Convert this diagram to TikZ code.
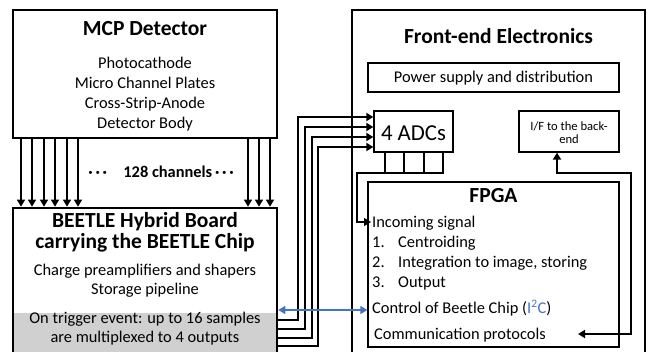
\documentclass[tikz,border=0pt]{standalone}
\usepackage{fontspec}
\setmainfont{Carlito}
\usetikzlibrary{arrows.meta,calc}
\definecolor{graybg}{RGB}{208,208,208}
\definecolor{linkblue}{RGB}{68,114,196}
\tikzset{
  bigbox/.style={draw, line width=2.6pt, inner sep=0pt},
  smallbox/.style={draw, line width=1.3pt, inner sep=0pt},
  conn/.style={line width=1.8pt},
  thin conn/.style={line width=1.3pt},
  tip/.style={-{Triangle[length=7pt,width=8pt]}},
  txt/.style={inner sep=0pt, anchor=base},
  ltxt/.style={inner sep=0pt, anchor=base west},
  ttl/.style={font=\fontsize{21.5}{24}\selectfont\bfseries},
  body/.style={font=\fontsize{16.4}{20}\selectfont},
}
\begin{document}
\begin{tikzpicture}[x=1pt,y=-1pt]
\useasboundingbox (0,0) rectangle (648,352);
\clip (0,0) rectangle (648,352);
% ---------- MCP detector ----------
\node[bigbox, minimum width=264pt, minimum height=128pt] (mcp) at (145,74) {};
\node[txt, ttl] (mcpt) at (145,36) {MCP Detector};
\node[txt, body] (m1) at (145,68.3) {Photocathode};
\node[txt, body] (m2) at (145,88.3) {Micro Channel Plates};
\node[txt, body] (m3) at (145,108.3) {Cross-Strip-Anode};
\node[txt, body] (m4) at (145,128.3) {Detector Body};
% ---------- BEETLE board ----------
\fill[graybg] (13,313) rectangle (277,362);
\node[bigbox, minimum width=264pt, minimum height=154pt] (beetle) at (145,285) {};
\node[txt, ttl] (b1) at (145,227.7) {BEETLE Hybrid Board};
\node[txt, ttl] (b2) at (145,248.5) {carrying the BEETLE Chip};
\node[txt, body] (b3) at (145,276) {Charge preamplifiers and shapers};
\node[txt, body] (b4) at (145,295) {Storage pipeline};
\node[txt, body] (b5) at (145,324) {On trigger event: up to 16 samples};
\node[txt, body] (b6) at (145,343) {are multiplexed to 4 outputs};
% ---------- channels ----------
\foreach \x in {21,32,44,55,67,78,248,259,270}
  \draw[thin conn, tip] (\x,0 |- mcp.south) -- (\x,0 |- beetle.north);
\node[txt, font=\fontsize{16.4}{20}\selectfont\bfseries] (ch) at (161,177.7) {·\,·\,·\quad 128 channels\,·\,·\,·};
% ---------- Front-end electronics ----------
\node[bigbox, minimum width=293pt, minimum height=352pt] (fee) at (498.5,186) {};
\node[txt, ttl] (feet) at (498.5,43.3) {Front-end Electronics};
\node[smallbox, minimum width=251pt, minimum height=29pt] (pwr) at (493.5,77.5) {};
\node[txt, body] (pwrt) at (493.5,82.7) {Power supply and distribution};
\node[smallbox, minimum width=79pt, minimum height=41pt] (adc) at (413.5,131.5) {};
\node[txt, font=\fontsize{22.8}{26}\selectfont] (adct) at (413.5,140.7) {4 ADCs};
\node[smallbox, minimum width=100pt, minimum height=41pt] (if) at (569,131.5) {};
\node[txt, font=\fontsize{12.6}{14}\selectfont] (if1) at (569,130.7) {I/F to the back-};
\node[txt, font=\fontsize{12.6}{14}\selectfont] (if2) at (569,143.3) {end};
% ---------- FPGA ----------
\node[smallbox, minimum width=251pt, minimum height=165pt] (fpga) at (493.5,264.5) {};
\node[txt, ttl] (fpgat) at (493.5,202.7) {FPGA};
\node[ltxt, body] (f0) at (372,227.3) {Incoming signal};
\node[ltxt, body] (f1n) at (372,247.7) {1.};
\node[ltxt, body] (f1) at (398,247.7) {Centroiding};
\node[ltxt, body] (f2n) at (372,267.3) {2.};
\node[ltxt, body] (f2) at (398,267.3) {Integration to image, storing};
\node[ltxt, body] (f3n) at (372,287.3) {3.};
\node[ltxt, body] (f3) at (398,287.3) {Output};
\node[ltxt, body] (f4) at (372,313.3) {Control of Beetle Chip (\textcolor{linkblue}{I\textsuperscript{2}C})};
\node[ltxt, body] (f5) at (374,339.3) {Communication protocols};
% ---------- BEETLE outputs to ADCs ----------
\draw[conn, tip] (beetle.east |- 0,320) -- (298,320) -- (298,117) -- (adc.west |- 0,117);
\draw[conn, tip] (beetle.east |- 0,329) -- (305,329) -- (305,127) -- (adc.west |- 0,127);
\draw[conn, tip] (beetle.east |- 0,338) -- (312,338) -- (312,137) -- (adc.west |- 0,137);
\draw[conn, tip] (beetle.east |- 0,346) -- (318,346) -- (318,147) -- (adc.west |- 0,147);
% ---------- ADCs to FPGA ----------
\foreach \x in {385,404,424}
  \draw[thin conn] (\x,0 |- adc.south) -- (\x,173);
\draw[thin conn, tip] (443,0 |- adc.south) -- (443,173) -- (357,173) -- (357,222) -- (371,222);
% ---------- I2C control ----------
\draw[line width=1.5pt, linkblue, {Triangle[length=7pt,width=8pt]}-{Triangle[length=7pt,width=8pt]}]
  (beetle.east |- 0,310) -- (fpga.west |- 0,310);
% ---------- communication ----------
\draw[conn, {Triangle[length=7pt,width=8pt]}-{Triangle[length=7pt,width=8pt]}]
  (557,0 |- if.south) -- (557,173) -- (631,173) -- (631,334) -- (578,334);
\end{tikzpicture}
\end{document}
